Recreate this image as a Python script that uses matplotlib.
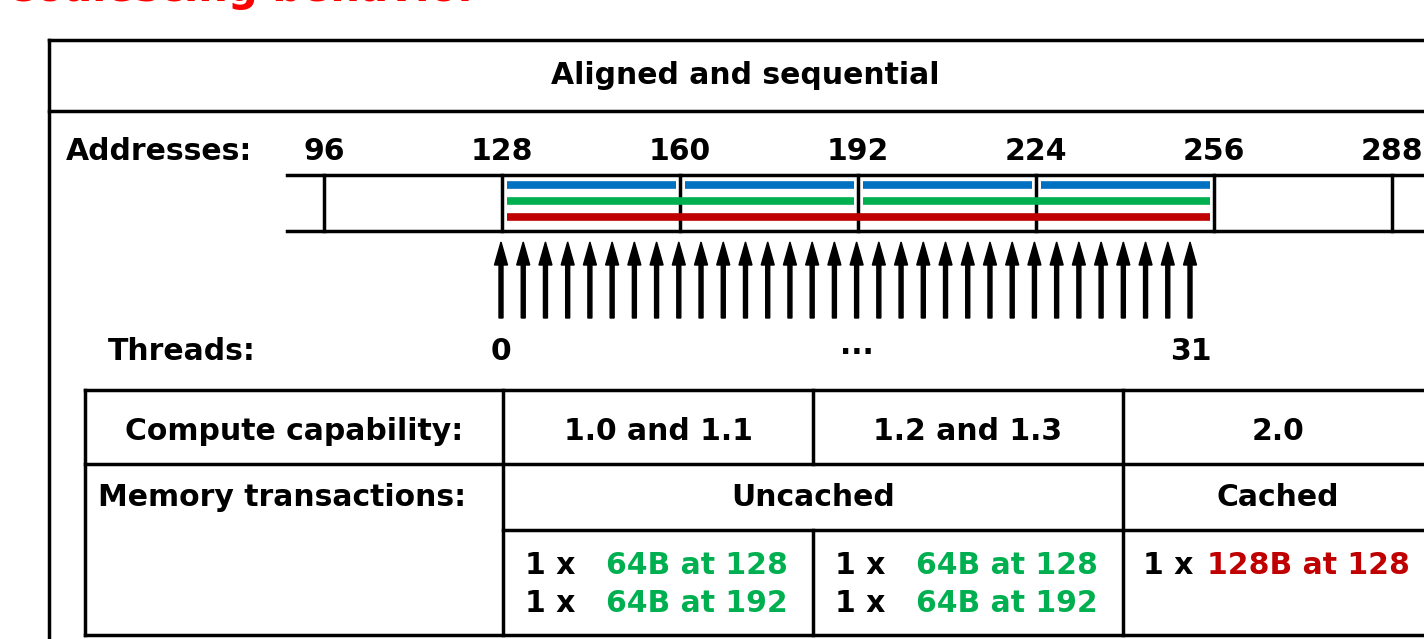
import matplotlib.pyplot as plt

# address labels and the data the diagram shows
addresses = [96, 128, 160, 192, 224, 256, 288]
blue_segments = [(128, 160), (160, 192), (192, 224), (224, 256)]
green_segments = [(128, 192), (192, 256)]
red_segments = [(128, 256)]
n_threads = 32
thread_labels = ["0", "...", "31"]

compute_caps = ["1.0 and 1.1", "1.2 and 1.3", "2.0"]
cache_modes = ["Uncached", "Cached"]
uncached_tx = ["64B at 128", "64B at 192"]
cached_tx = ["128B at 128"]

BLUE = "#0070C0"
GREEN = "#00B050"
RED = "#C00000"
FS = 21.5
LW = 2.5

W, H = 1424, 639
fig = plt.figure(figsize=(W / 100, H / 100), dpi=100)
ax = fig.add_axes([0, 0, 1, 1])
ax.set_xlim(0, W)
ax.set_ylim(H, 0)
ax.axis("off")


def addr_x(a):
    return 502 + (a - 128) * 178 / 32


def txt(x, y, s, ha="center", color="black", size=FS):
    ax.text(x, y, s, ha=ha, va="center", fontsize=size, fontweight="bold", color=color)


def hline(x0, x1, y):
    ax.plot([x0, x1], [y, y], color="black", lw=LW, solid_capstyle="projecting")


def vline(x, y0, y1):
    ax.plot([x, x], [y0, y1], color="black", lw=LW, solid_capstyle="projecting")


# slide title, mostly cut off by the top edge
ax.text(5, 1, "Coalescing behavior", ha="left", va="baseline", fontsize=30,
        fontweight="bold", color="#FF0000")

# outer box
vline(49, 40, H + 5)
hline(49, W + 5, 40)
hline(49, W + 5, 111)
txt(745, 75, "Aligned and sequential")

# addresses row
txt(66, 151, "Addresses:", ha="left")
for a in addresses:
    txt(addr_x(a), 151, str(a))
hline(287, W + 5, 175)
hline(287, W + 5, 231)
for a in addresses:
    vline(addr_x(a), 175, 231)

for segs, y, col in [(blue_segments, 185, BLUE), (green_segments, 201, GREEN), (red_segments, 217, RED)]:
    for s, e in segs:
        ax.plot([addr_x(s) + 5, addr_x(e) - 4], [y, y], color=col, lw=5.5, solid_capstyle="butt")

# thread arrows
step = (1190 - 501) / (n_threads - 1)
for i in range(n_threads):
    x = 501 + i * step
    ax.arrow(x, 318, 0, -76, width=4, head_width=13, head_length=23,
             length_includes_head=True, color="black")

txt(108, 351, "Threads:", ha="left")
txt(501, 351, thread_labels[0])
txt(857, 345, thread_labels[1])
txt(1191, 351, thread_labels[2])

# table
cols = [85, 503, 813, 1123]
hline(85, W + 5, 390)
hline(85, W + 5, 464)
hline(503, W + 5, 530)
hline(85, W + 5, 635)
vline(85, 390, 635)
vline(503, 390, 635)
vline(813, 390, 464)
vline(813, 530, 635)
vline(1123, 390, 635)

txt(294, 431, "Compute capability:")
for i, cap in enumerate(compute_caps):
    left = cols[i + 1]
    right = cols[i + 2] if i + 2 < len(cols) else 1433
    txt((left + right) / 2, 431, cap)

txt(98, 498, "Memory transactions:", ha="left")
txt(813, 498, cache_modes[0])
txt(1278, 498, cache_modes[1])

for c in [0, 1]:
    x0 = 525 + c * 310
    for j, t in enumerate(uncached_tx):
        y = 565 + j * 39
        txt(x0, y, "1 x", ha="left")
        txt(x0 + 81, y, t, ha="left", color=GREEN)

txt(1143, 565, "1 x", ha="left")
txt(1207, 565, cached_tx[0], ha="left", color=RED)

fig.savefig("out.png", dpi=100)
